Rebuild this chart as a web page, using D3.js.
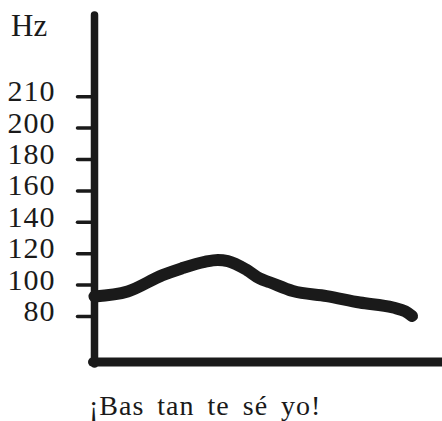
<!DOCTYPE html>
<html>
<head>
<meta charset="utf-8">
<script src="https://cdn.jsdelivr.net/npm/d3@7"></script>
<style>
  body { margin: 0; background: #fff; }
  text { font-family: "Liberation Serif", "DejaVu Serif", serif; fill: #1a1a1a; }
</style>
</head>
<body>
<svg id="chart" width="442" height="421"></svg>
<script>
// pitch track of the phrase, time in % of the utterance, pitch in Hz
var times = [0, 9.6, 19.7, 25.2, 31.9, 35.7, 38.6, 44.1, 47.8, 50.7, 57.4, 67.2, 76.8, 86.4, 89.9, 91.9];
var pitch = [92.4, 95.6, 106, 110.3, 114.5, 115.7, 115, 109.3, 103.9, 101.5, 95.9, 92.7, 88.6, 85.4, 83, 80];
var tickValues = [80, 100, 120, 140, 160, 180, 200, 210];
var unitLabel = "Hz";
var caption = "¡Bas tan te sé yo!";

var svg = d3.select("#chart");
var ink = "#1a1a1a";

var axisX = 94.5,
    bottom = 362,
    y0 = 316,
    step = 31.4;

// ticks are drawn evenly spaced, so the scale is piecewise
var y = d3.scaleLinear()
  .domain(tickValues)
  .range(tickValues.map(function(d, i) { return y0 - i * step; }));

var x = d3.scaleLinear()
  .domain([0, 100])
  .range([axisX, 440]);

var yAxis = svg.append("g")
  .attr("transform", "translate(" + axisX + ",0)")
  .call(d3.axisLeft(y).tickValues(tickValues).tickSize(17).tickPadding(22).tickFormat(d3.format("d")));

yAxis.select(".domain").remove();
yAxis.selectAll(".tick line")
  .attr("stroke", ink)
  .attr("stroke-width", 3.5)
  .attr("stroke-linecap", "round");
yAxis.selectAll(".tick text")
  .attr("dy", "0.15em")
  .style("font-family", "Liberation Serif, serif")
  .style("font-size", "30px")
  .style("letter-spacing", "1px")
  .attr("fill", ink);

// axis lines
svg.append("line")
  .attr("x1", axisX).attr("x2", axisX)
  .attr("y1", 15).attr("y2", bottom + 2)
  .attr("stroke", ink)
  .attr("stroke-width", 7.5)
  .attr("stroke-linecap", "round");

svg.append("line")
  .attr("x1", axisX - 2).attr("x2", 446)
  .attr("y1", bottom).attr("y2", bottom)
  .attr("stroke", ink)
  .attr("stroke-width", 9)
  .attr("stroke-linecap", "round");

svg.append("text")
  .attr("x", 11)
  .attr("y", 36)
  .style("font-size", "31px")
  .text(unitLabel);

var line = d3.line()
  .x(function(d) { return x(d[0]); })
  .y(function(d) { return y(d[1]); })
  .curve(d3.curveMonotoneX);

svg.append("path")
  .datum(d3.zip(times, pitch))
  .attr("d", line)
  .attr("fill", "none")
  .attr("stroke", ink)
  .attr("stroke-width", 12)
  .attr("stroke-linecap", "round")
  .attr("stroke-linejoin", "round");

svg.append("text")
  .attr("x", 89)
  .attr("y", 415)
  .style("font-size", "28px")
  .style("letter-spacing", "1px")
  .style("word-spacing", "5px")
  .text(caption);
</script>
</body>
</html>
